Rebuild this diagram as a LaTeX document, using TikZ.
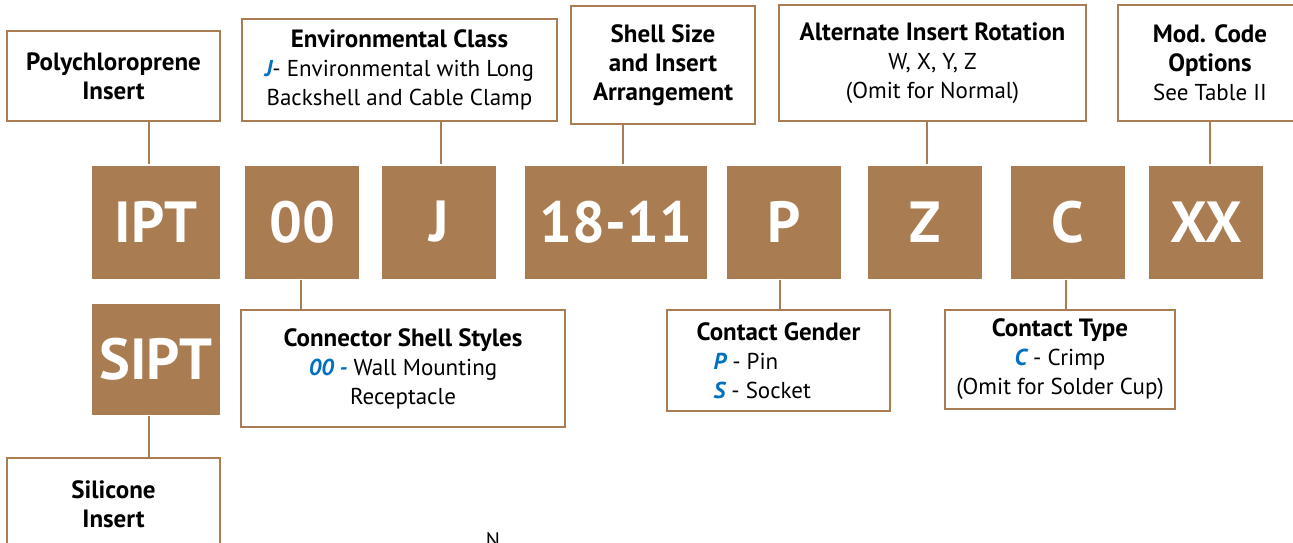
\documentclass[tikz,border=0pt]{standalone}
\usepackage{fontspec}
\setmainfont{PT Sans}
\usetikzlibrary{positioning}
\definecolor{cbrown}{HTML}{A97D51}
\definecolor{cblue}{HTML}{0070C0}
\tikzset{
  every picture/.style={line width=2.3pt},
  codebox/.style={fill=cbrown, text=white, font=\bfseries\fontsize{58}{58}\selectfont, minimum height=113pt, minimum width=#1, inner sep=0pt},
  codebox/.default=114pt,
  infobox/.style={draw=cbrown, fill=white, align=center, inner sep=0pt, font=\fontsize{23}{29}\selectfont},
  link/.style={draw=cbrown},
}
\newcommand{\opt}[1]{\textcolor{cblue}{\bfseries\itshape #1}}
\newcommand{\hd}[1]{{\bfseries\fontsize{25}{29}\selectfont #1}}
\begin{document}
\begin{tikzpicture}[x=1pt, y=-1pt]
  \useasboundingbox (0,0) rectangle (1293,543);
  \node[codebox=128pt] (ipt) at (156,222) {IPT};
  \node[codebox] (c00) at (302,222) {00};
  \node[codebox] (cj) at (439,222) {J};
  \node[codebox=182pt] (size) at (616,222) {18-11};
  \node[codebox] (cp) at (784,222) {P};
  \node[codebox] (cz) at (925,222) {Z};
  \node[codebox] (cc) at (1068,222) {C};
  \node[codebox] (cxx) at (1206,222) {XX};
  \node[codebox=128pt, minimum height=111pt] (sipt) at (156,359) {SIPT};
  \node[infobox, minimum width=213pt, minimum height=90pt] (poly) at (113.5,76) {\hd{Polychloroprene}\\\hd{Insert}};
  \node[infobox, minimum width=315pt, minimum height=102pt] (env) at (399.5,70) {\hd{Environmental Class}\\\opt{J}- Environmental with Long\\Backshell and Cable Clamp};
  \node[infobox, minimum width=184pt, minimum height=118pt] (shell) at (663,65) {\hd{Shell Size}\\\hd{and Insert}\\\hd{Arrangement}};
  \node[infobox, minimum width=307pt, minimum height=116pt] (rot) at (932.5,63) {\hd{Alternate Insert Rotation}\\W, X, Y, Z\\(Omit for Normal)};
  \node[infobox, minimum width=184pt, minimum height=116pt] (mod) at (1210,63) {\hd{Mod. Code}\\\hd{Options}\\See Table II};
  \node[infobox, minimum width=324pt, minimum height=117pt] (style) at (403,368.5) {\hd{Connector Shell Styles}\\\opt{00 -} Wall Mounting\\Receptacle};
  \node[infobox, minimum width=223pt, minimum height=101pt] (gender) at (778.5,360.5) {\hd{Contact Gender}\\\makebox[130pt][l]{\opt{P} - Pin}\\\makebox[130pt][l]{\opt{S} - Socket}};
  \node[infobox, minimum width=230pt, minimum height=99pt] (ctype) at (1060,359.5) {\hd{Contact Type}\\\opt{C} - Crimp\\(Omit for Solder Cup)};
  \node[infobox, minimum width=213pt, minimum height=93pt] (sil) at (113.5,504.5) {\hd{Silicone}\\\hd{Insert}};
  \node[font=\fontsize{21}{21}\selectfont, anchor=base] (stray) at (493,547) {N};
  \draw[link] ([xshift=-7pt]ipt.north) -- ([xshift=-7pt]ipt.north |- poly.south);
  \draw[link] ([xshift=2pt]cj.north) -- ([xshift=2pt]cj.north |- env.south);
  \draw[link] ([xshift=7pt]size.north) -- ([xshift=7pt]size.north |- shell.south);
  \draw[link] ([xshift=2pt]cz.north) -- ([xshift=2pt]cz.north |- rot.south);
  \draw[link] ([xshift=4pt]cxx.north) -- ([xshift=4pt]cxx.north |- mod.south);
  \draw[link] ([xshift=-1pt]c00.south) -- ([xshift=-1pt]c00.south |- style.north);
  \draw[link] ([xshift=-4pt]cp.south) -- ([xshift=-4pt]cp.south |- gender.north);
  \draw[link] ([xshift=-2pt]cc.south) -- ([xshift=-2pt]cc.south |- ctype.north);
  \draw[link] ([xshift=-7pt]sipt.south) -- ([xshift=-7pt]sipt.south |- sil.north);
\end{tikzpicture}
\end{document}
